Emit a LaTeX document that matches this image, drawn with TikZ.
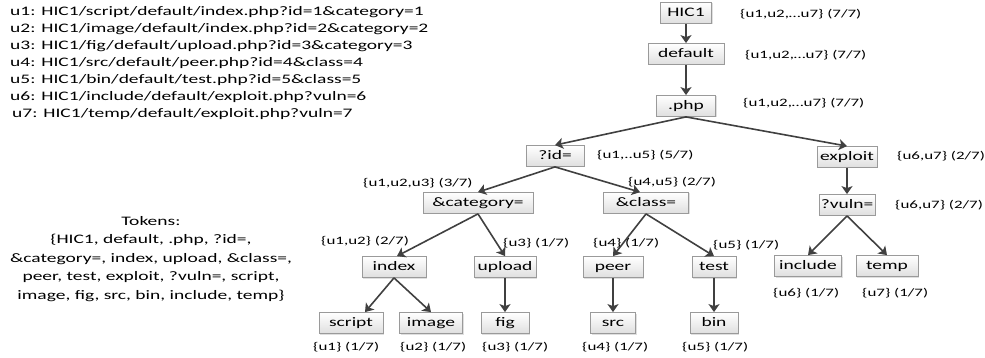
\documentclass[tikz,border=0pt]{standalone}
\usepackage{fontspec}
\setmainfont[FakeStretch=1.5]{Carlito}
\usetikzlibrary{arrows.meta,calc,shadows}
\definecolor{arr}{HTML}{404040}
\definecolor{bord}{HTML}{9A9A9A}
\newcommand\myBig{\fontsize{13}{17}\selectfont}
\newcommand\mySmall{\fontsize{11.3}{14}\selectfont}
\tikzset{
  box/.style={draw=bord, line width=0.8pt, top color=white, bottom color=gray!25,
    drop shadow={shadow xshift=1pt, shadow yshift=-1pt, opacity=0.25},
    minimum height=21, inner xsep=0, inner ysep=2, text height=9.5, text depth=3, font=\myBig},
  lab/.style={anchor=west, inner sep=0, font=\mySmall},
  arw/.style={draw=arr, line width=1.6, -{Stealth[length=8,width=11,inset=2]}},
}
\begin{document}
\begin{tikzpicture}[x=1pt,y=-1pt]
\useasboundingbox (0,0) rectangle (985,358);
% left texts
\node[anchor=north west, inner sep=0, align=left, font=\myBig] (urls) at (10,6)
 {u1: HIC1/script/default/index.php?id=1\&category=1\\
  u2: HIC1/image/default/index.php?id=2\&category=2\\
  u3: HIC1/fig/default/upload.php?id=3\&category=3\\
  u4: HIC1/src/default/peer.php?id=4\&class=4\\
  u5: HIC1/bin/default/test.php?id=5\&class=5\\
  u6: HIC1/include/default/exploit.php?vuln=6\\
  \hspace*{2pt}u7: HIC1/temp/default/exploit.php?vuln=7};
\node[inner sep=0, align=center, font=\fontsize{13}{18.6}\selectfont] (tok) at (151,259)
 {Tokens:\\
  \{HIC1, default, .php, ?id=,\\
  \&category=, index, upload, \&class=,\\
  peer, test, exploit, ?vuln=, script,\\
  image, fig, src, bin, include, temp\}};
% tree nodes
\node[box,minimum width=51] (hic) at (686,13) {HIC1};
\node[box,minimum width=76] (def) at (686,54) {default};
\node[box,minimum width=59] (php) at (686,106) {.php};
\node[box,minimum width=58] (id) at (555,156) {?id=};
\node[box,minimum width=60] (exp) at (847,157) {exploit};
\node[box,minimum width=110] (cat) at (478,203) {\&category=};
\node[box,minimum width=85] (cls) at (646,203) {\&class=};
\node[box,minimum width=56] (vuln) at (847,205) {?vuln=};
\node[box,minimum width=64] (idx) at (394,267) {index};
\node[box,minimum width=62] (upl) at (505,267) {upload};
\node[box,minimum width=60] (peer) at (613,267) {peer};
\node[box,minimum width=44] (test) at (714,267) {test};
\node[box,minimum width=67] (inc) at (808,266) {include};
\node[box,minimum width=62] (tmp) at (887,266) {temp};
\node[box,minimum width=64] (scr) at (351,323) {script};
\node[box,minimum width=63] (img) at (431,323) {image};
\node[box,minimum width=48] (fig) at (505,323) {fig};
\node[box,minimum width=45] (src) at (613,323) {src};
\node[box,minimum width=48] (bin) at (714,323) {bin};
% labels
\node[lab] (l1) at (740,14) {\{u1,u2,…u7\} (7/7)};
\node[lab] (l2) at (745,55) {\{u1,u2,…u7\} (7/7)};
\node[lab] (l3) at (743,103) {\{u1,u2,…u7\} (7/7)};
\node[lab] (l4) at (597,155) {\{u1,..u5\} (5/7)};
\node[lab] (l5) at (897,156) {\{u6,u7\} (2/7)};
\node[lab] (l6) at (895,205) {\{u6,u7\} (2/7)};
\node[lab] (l7) at (363,183) {\{u1,u2,u3\} (3/7)};
\node[lab] (l8) at (628,182) {\{u4,u5\} (2/7)};
\node[lab] (l9) at (321,241) {\{u1,u2\} (2/7)};
\node[lab] (l10) at (503,243) {\{u3\} (1/7)};
\node[lab] (l11) at (593,243) {\{u4\} (1/7)};
\node[lab] (l12) at (713,245) {\{u5\} (1/7)};
\node[lab] (l13) at (773,293) {\{u6\} (1/7)};
\node[lab] (l14) at (862,293) {\{u7\} (1/7)};
\node[lab] (l15) at (313,347) {\{u1\} (1/7)};
\node[lab] (l16) at (400,347) {\{u2\} (1/7)};
\node[lab] (l17) at (482,347) {\{u3\} (1/7)};
\node[lab] (l18) at (582,347) {\{u4\} (1/7)};
\node[lab] (l19) at (682,347) {\{u5\} (1/7)};
% arrows
\draw[arw] (hic.south) -- (def.north);
\draw[arw] (def.south) -- (php.north);
\draw[arw] (php.south) -- (id.north);
\draw[arw] (php.south) -- (exp.north);
\draw[arw] (id.south) -- (cat.north);
\draw[arw] (id.south) -- ([xshift=-6]cls.north);
\draw[arw] (exp.south) -- (vuln.north);
\draw[arw] (cat.south) -- ([xshift=3]idx.north);
\draw[arw] (cat.south) -- (upl.north);
\draw[arw] (cls.south) -- (peer.north);
\draw[arw] (cls.south) -- (test.north);
\draw[arw] (vuln.south) -- (inc.north);
\draw[arw] (vuln.south) -- (tmp.north);
\draw[arw] (idx.south) -- ([xshift=14]scr.north);
\draw[arw] (idx.south) -- (img.north);
\draw[arw] (upl.south) -- (fig.north);
\draw[arw] (peer.south) -- (src.north);
\draw[arw] (test.south) -- (bin.north);
\end{tikzpicture}
\end{document}
